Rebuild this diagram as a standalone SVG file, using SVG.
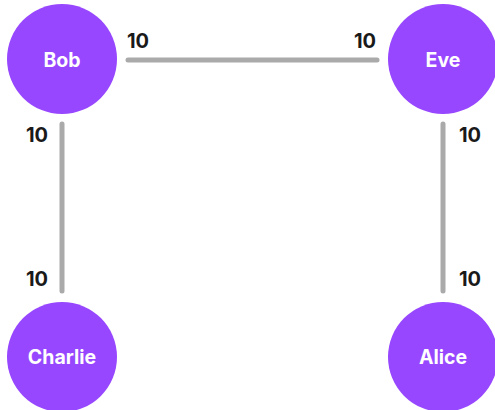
<svg xmlns="http://www.w3.org/2000/svg" width="495" height="410" viewBox="0 0 495 410">
<style>
.node{fill:#9747ff;}
.nl{font-family:Inter,"Liberation Sans",sans-serif;font-weight:700;font-size:19.5px;fill:#ffffff;text-anchor:middle;dominant-baseline:central;}
.edge{stroke:#aaaaaa;stroke-width:5;stroke-linecap:round;fill:none;}
.el{font-family:Inter,"Liberation Sans",sans-serif;font-weight:700;font-size:20px;fill:#1a1a1a;}
</style>
<rect width="495" height="410" fill="#ffffff"/>
<g id="connectors">
<line class="edge" x1="128" y1="60" x2="377" y2="60"/>
<line class="edge" x1="62" y1="124" x2="62" y2="291"/>
<line class="edge" x1="443" y1="124" x2="443" y2="291"/>
<text class="el" x="127" y="48">10</text>
<text class="el" x="354" y="48">10</text>
<text class="el" x="26" y="142">10</text>
<text class="el" x="26" y="286">10</text>
<text class="el" x="459" y="142">10</text>
<text class="el" x="459" y="286">10</text>
</g>
<g id="bob"><circle class="node" cx="62" cy="59" r="55"/><text class="nl" x="62" y="60">Bob</text></g>
<g id="eve"><circle class="node" cx="443" cy="59" r="55"/><text class="nl" x="443" y="60">Eve</text></g>
<g id="charlie"><circle class="node" cx="62" cy="357" r="55"/><text class="nl" x="62" y="357">Charlie</text></g>
<g id="alice"><circle class="node" cx="443" cy="357" r="55"/><text class="nl" x="443" y="357">Alice</text></g>
</svg>
